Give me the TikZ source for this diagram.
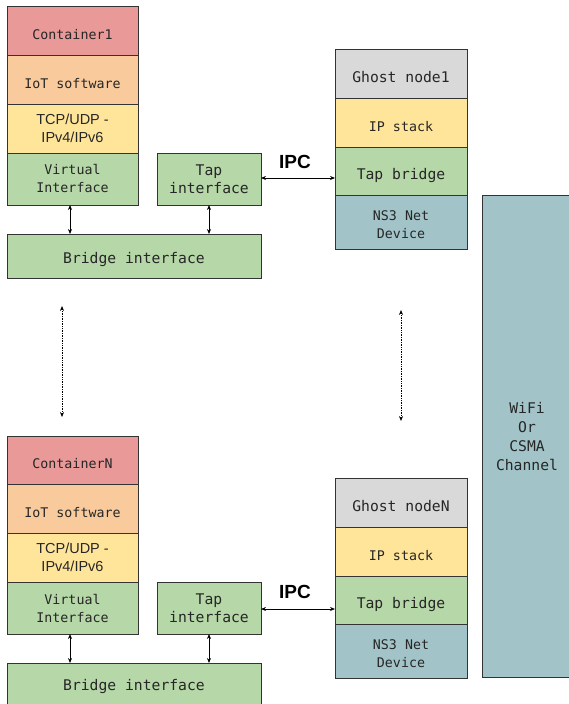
\documentclass[tikz,border=0pt]{standalone}
\usepackage{fontspec}
\setmainfont{Liberation Sans}
\setmonofont{DejaVu Sans Mono}
\usetikzlibrary{arrows.meta}
\definecolor{cred}{HTML}{EA9999}
\definecolor{corange}{HTML}{F9CB9C}
\definecolor{cyellow}{HTML}{FFE599}
\definecolor{cgreen}{HTML}{B6D7A8}
\definecolor{cgray}{HTML}{D9D9D9}
\definecolor{cblue}{HTML}{A2C4C9}
\definecolor{cline}{HTML}{333333}
\begin{document}
\begin{tikzpicture}[x=1pt,y=-1pt,
  box/.style={draw=cline, line width=0.9pt, inner sep=0pt, outer sep=0pt,
    anchor=north west, align=center, text=black!85,
    font=\ttfamily\fontsize{13.3}{18}\selectfont},
  bigtext/.style={font=\ttfamily\fontsize{14.7}{18.5}\selectfont},
  oneline/.style={text height=17pt, text depth=0pt},
  nsline/.style={text height=32.5pt},
  sanstext/.style={font=\rmfamily\fontsize{14.5}{18}\selectfont},
  biarrow/.style={{Stealth[length=5pt,width=4pt]}-{Stealth[length=5pt,width=4pt]}, line width=0.8pt, black},
  dotarrow/.style={{Stealth[length=5pt,width=4pt]}-{Stealth[length=5pt,width=4pt]}, densely dotted, line width=0.7pt, black},
  ipc/.style={font=\rmfamily\bfseries\fontsize{19}{20}\selectfont}]
\useasboundingbox (0,0) rectangle (569,704);
\fill[white] (0,0) rectangle (569,704);

% Container 1
\node[box, oneline, fill=cred, minimum width=131pt, minimum height=49pt] (c1) at (7,6) {Container1};
\node[box, oneline, fill=corange, minimum width=131pt, minimum height=49pt] (iot1) at (7,55) {IoT software};
\node[box, fill=cyellow, minimum width=131pt, minimum height=49pt, sanstext] (tcp1) at (7,104) {TCP/UDP -\\IPv4/IPv6};
\node[box, fill=cgreen, minimum width=131pt, minimum height=52pt] (vi1) at (7,153) {Virtual\\Interface};
\node[box, bigtext, fill=cgreen, minimum width=104pt, minimum height=52pt] (tap1) at (157,153) {Tap\\interface};
\node[box, bigtext, text height=15pt, text depth=0pt, fill=cgreen, minimum width=254pt, minimum height=44pt] (br1) at (7,234) {Bridge interface};

% Ghost node 1
\node[box, bigtext, oneline, fill=cgray, minimum width=132pt, minimum height=49pt] (g1) at (335,49) {Ghost node1};
\node[box, oneline, fill=cyellow, minimum width=132pt, minimum height=49pt] (ip1) at (335,98) {IP stack};
\node[box, bigtext, oneline, fill=cgreen, minimum width=132pt, minimum height=48pt] (tb1) at (335,147) {Tap bridge};
\node[box, nsline, fill=cblue, minimum width=132pt, minimum height=54pt] (ns1) at (335,195) {NS3 Net\\Device};

% Channel
\node[box, fill=cblue, minimum width=110pt, minimum height=482pt] (ch) at (482,195) {};
\node[font=\ttfamily\fontsize{14.7}{19}\selectfont, align=center, text=black!85] (chl) at (527,437) {WiFi\\Or\\CSMA\\Channel};

% Container N
\node[box, oneline, fill=cred, minimum width=131pt, minimum height=48pt] (cN) at (7,436) {ContainerN};
\node[box, oneline, fill=corange, minimum width=131pt, minimum height=49pt] (iotN) at (7,484) {IoT software};
\node[box, fill=cyellow, minimum width=131pt, minimum height=49pt, sanstext] (tcpN) at (7,533) {TCP/UDP -\\IPv4/IPv6};
\node[box, fill=cgreen, minimum width=131pt, minimum height=52pt] (viN) at (7,582) {Virtual\\Interface};
\node[box, bigtext, fill=cgreen, minimum width=104pt, minimum height=52pt] (tapN) at (157,582) {Tap\\interface};
\node[box, fill=cgreen, minimum width=254pt, minimum height=50pt] (brN) at (7,663) {};
\node[font=\ttfamily\fontsize{14.7}{18}\selectfont, text=black!85] (brNl) at (134,686) {Bridge interface};

% Ghost node N
\node[box, bigtext, oneline, fill=cgray, minimum width=132pt, minimum height=49pt] (gN) at (335,478) {Ghost nodeN};
\node[box, oneline, fill=cyellow, minimum width=132pt, minimum height=49pt] (ipN) at (335,527) {IP stack};
\node[box, bigtext, oneline, fill=cgreen, minimum width=132pt, minimum height=48pt] (tbN) at (335,576) {Tap bridge};
\node[box, nsline, fill=cblue, minimum width=132pt, minimum height=54pt] (nsN) at (335,624) {NS3 Net\\Device};

% Connectors
\draw[biarrow] ([xshift=-2.5pt]vi1.south) -- ([xshift=-2.5pt]vi1.south |- br1.north);
\draw[biarrow] (tap1.south) -- (tap1.south |- br1.north);
\draw[biarrow] ([yshift=1pt]tap1.east) -- ([yshift=1pt]tap1.east -| tb1.west);
\node[ipc] (ipc1) at (295,162) {IPC};

\draw[biarrow] ([xshift=-2.5pt]viN.south) -- ([xshift=-2.5pt]viN.south |- brN.north);
\draw[biarrow] (tapN.south) -- (tapN.south |- brN.north);
\draw[biarrow] ([yshift=-1pt]tapN.east) -- ([yshift=-1pt]tapN.east -| tbN.west);
\node[ipc] (ipcN) at (295,592) {IPC};

\coordinate (d1a) at (62,306);
\coordinate (d1b) at (62,417);
\coordinate (d2a) at (401,310);
\coordinate (d2b) at (401,421);
\draw[dotarrow] (d1a) -- (d1b);
\draw[dotarrow] (d2a) -- (d2b);
\end{tikzpicture}
\end{document}
